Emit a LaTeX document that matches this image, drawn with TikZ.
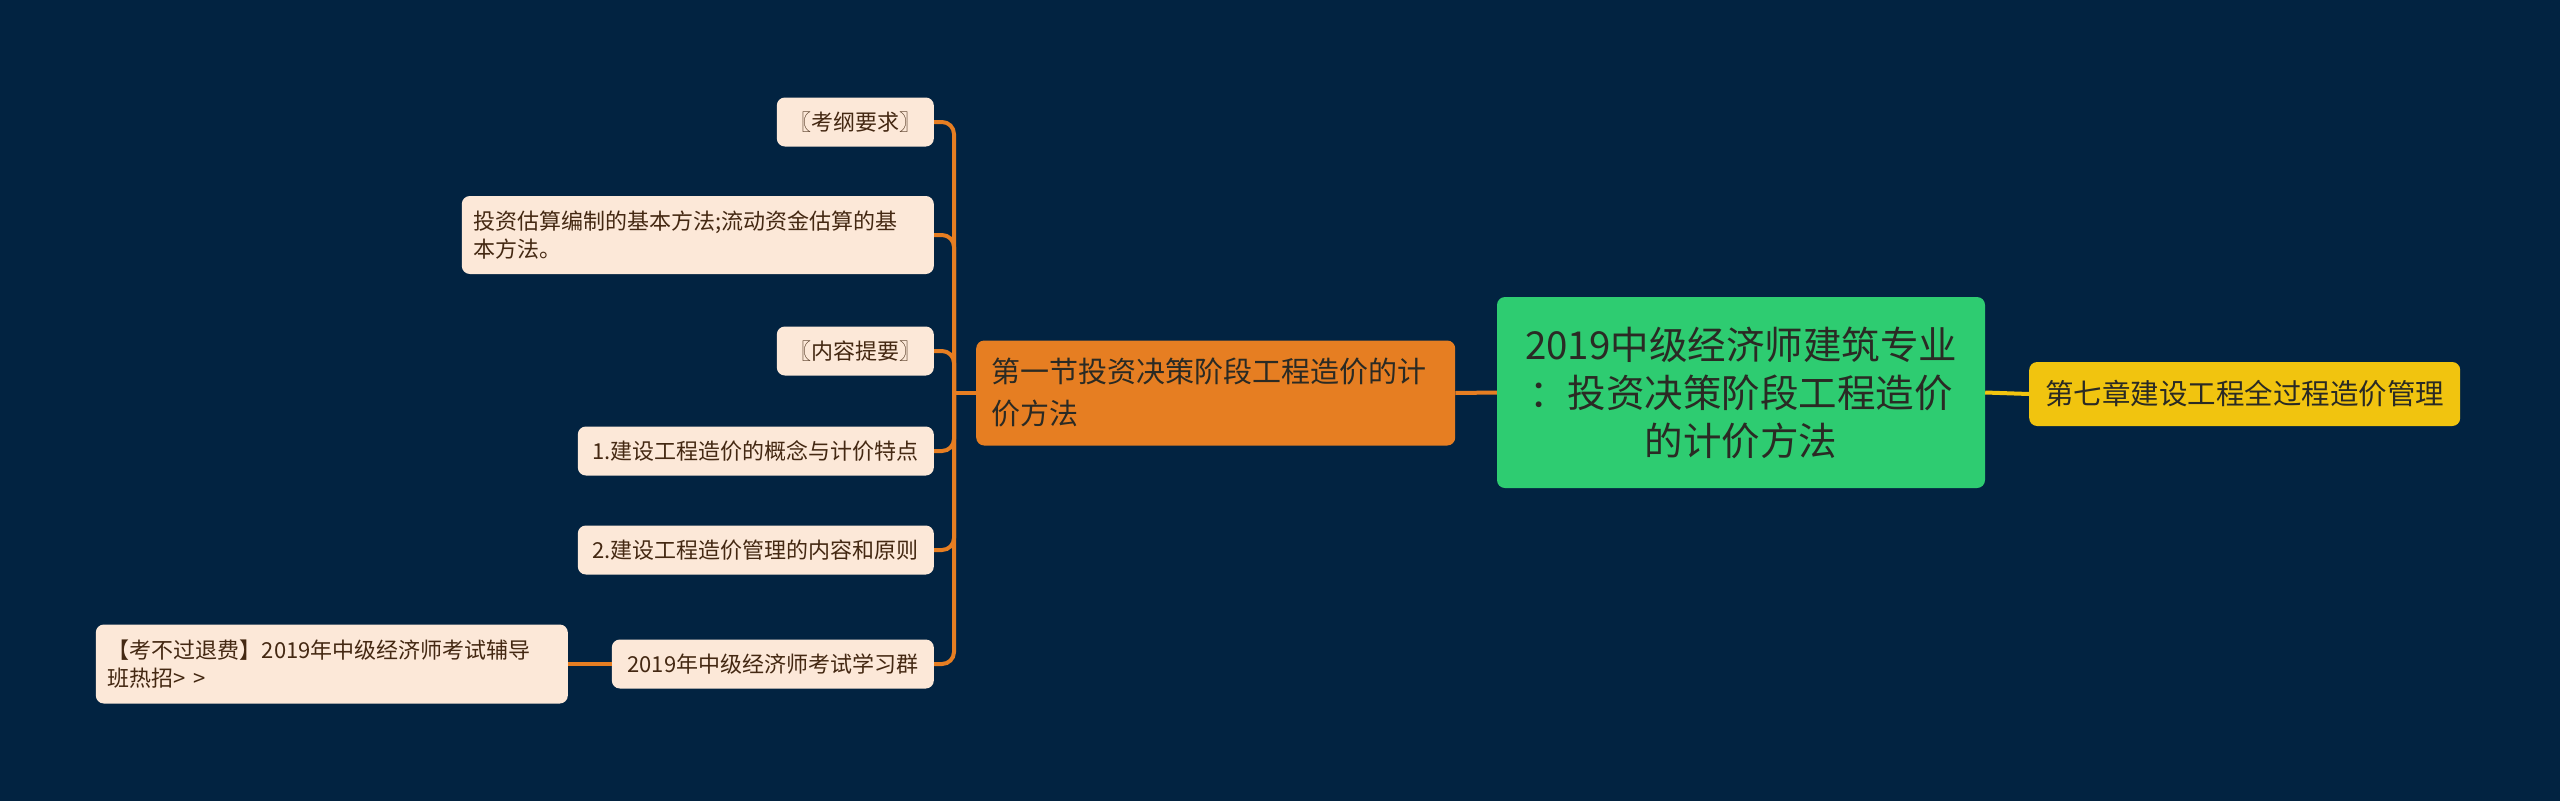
\documentclass[tikz,border=0pt]{standalone}
\usepackage{fontspec}
\setmainfont{Noto Sans CJK SC}
\usepackage{xcolor}

\definecolor{bgblue}{HTML}{022341}
\definecolor{leaffill}{HTML}{FCE8D8}
\definecolor{leaftext}{HTML}{442812}
\definecolor{carrot}{HTML}{E67E22}
\definecolor{emerald}{HTML}{2ECC71}
\definecolor{sunflower}{HTML}{F1C40F}
\definecolor{darktext}{HTML}{2A2A24}

\begin{document}
\begin{tikzpicture}[x=1pt, y=-1pt,
  leaf/.style={fill=leaffill, text=leaftext, rounded corners=8pt, inner xsep=12pt, inner ysep=0pt,
    minimum height=49pt, align=left, font=\fontsize{22}{28}\selectfont},
  longleaf/.style={leaf, text width=448pt, minimum height=79pt},
  section/.style={fill=carrot, text=darktext, rounded corners=8pt, inner xsep=15pt, inner ysep=0pt,
    text width=449pt, minimum height=105pt, align=left, font=\fontsize{29}{42}\selectfont},
  root/.style={fill=emerald, text=darktext, rounded corners=8pt, inner xsep=15pt, inner ysep=0pt,
    text width=458pt, minimum height=191pt, align=center, font=\fontsize{38.5}{48}\selectfont},
  chapter/.style={fill=sunflower, text=darktext, rounded corners=8pt, inner xsep=16pt, inner ysep=0pt,
    minimum height=64pt, font=\fontsize{28.5}{34}\selectfont},
  branch/.style={draw=carrot, line width=4pt},
]

% Background and page size
\fill[bgblue] (0,0) rectangle (2560,801);
\useasboundingbox (0,0) rectangle (2560,801);

% Central topic and its two sides
\node[root] (root) at (1741,392.5) {2019中级经济师建筑专业\\：投资决策阶段工程造价\\的计价方法};
\node[section, anchor=west] (sec) at (976,393) {第一节投资决策阶段工程造价的计\\价方法};
\node[chapter, anchor=west] (chap) at (2029,394) {第七章建设工程全过程造价管理};

% Leaves of the section
\node[leaf, anchor=east, minimum width=157pt] (req) at (934,122) {〖考纲要求〗};
\node[longleaf, anchor=east, minimum height=78pt] (method) at (934,235) {投资估算编制的基本方法;流动资金估算的基\\本方法。};
\node[leaf, anchor=east, minimum width=157pt] (brief) at (934,351) {〖内容提要〗};
\node[leaf, anchor=east, minimum width=356pt] (concept) at (934,451) {1.建设工程造价的概念与计价特点};
\node[leaf, anchor=east, minimum width=356pt] (manage) at (934,550) {2.建设工程造价管理的内容和原则};
\node[leaf, anchor=east, minimum width=322pt] (group) at (934,664) {2019年中级经济师考试学习群};
\node[longleaf, anchor=east] (refund) at (568,664) {【考不过退费】2019年中级经济师考试辅导\\班热招> >};

% Connectors
\draw[branch] (root.west) -- (sec.east);
\draw[draw=sunflower, line width=4pt] (root.east) -- (chap.west);
\coordinate (fork) at (954,393);
\draw[branch] (sec.west) -- (fork);
\foreach \n in {req,method,brief,concept,manage,group}
  \draw[branch, rounded corners=12pt] (fork) |- (\n.east);
\draw[branch] (group.west) -- (refund.east);

\end{tikzpicture}
\end{document}
